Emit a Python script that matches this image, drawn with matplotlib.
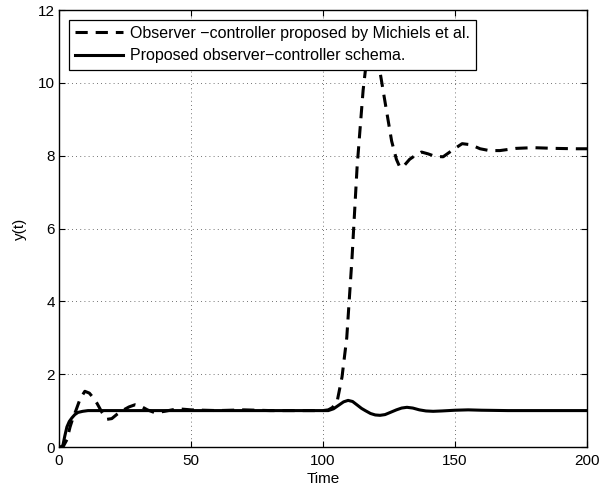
import matplotlib
matplotlib.use("Agg")
import matplotlib.pyplot as plt

plt.rcParams['font.family'] = ['Liberation Sans', 'DejaVu Sans']

# Michiels et al. observer-controller response
t_michiels = [0, 1.5, 3, 4.2, 5.3, 6.4, 8, 9.8, 11.5, 13, 14.4, 16.3, 18.2, 20, 22, 24,
              26.5, 28.8, 31, 33.5, 36.4, 40, 45, 50, 60, 70, 80, 90, 100, 102, 103.5,
              105.3, 107.2, 109, 111, 112.9, 114, 115.2, 116.3, 117.5, 118.8, 120.2,
              121.6, 123.9, 126, 127.8, 129.2, 131, 132.8, 134.8, 137.3, 139.8, 142.5,
              145.5, 149, 152.7, 156, 159.5, 163, 167, 173, 179.5, 188, 196, 200]
y_michiels = [0, 0.0, 0.2, 0.55, 0.8, 1.0, 1.32, 1.53, 1.48, 1.35, 1.2, 0.95, 0.76, 0.78,
              0.9, 1.0, 1.1, 1.16, 1.12, 1.02, 0.94, 0.98, 1.05, 1.02, 1.0, 1.02, 1.0,
              1.0, 1.0, 1.02, 1.08, 1.23, 1.92, 3.0, 5.2, 7.67, 8.7, 9.8, 10.5, 11.0,
              11.25, 11.1, 10.3, 9.3, 8.4, 7.9, 7.67, 7.75, 7.9, 8.0, 8.1, 8.05, 7.98,
              7.97, 8.15, 8.33, 8.3, 8.19, 8.14, 8.14, 8.2, 8.22, 8.2, 8.19, 8.19]

# proposed observer-controller response
t_proposed = [0, 0.8, 1.5, 2.2, 3, 3.9, 4.9, 6, 7.2, 9, 11, 15, 30, 60, 90, 100, 102,
              104, 106, 107.8, 109.5, 111.2, 113, 114.6, 116, 118, 119.8, 121.6, 123.5,
              125.5, 127.8, 129.8, 131.8, 134, 136.5, 139, 141.7, 145, 150, 155, 160,
              170, 180, 190, 200]
y_proposed = [0, 0.0, 0.05, 0.3, 0.55, 0.7, 0.8, 0.89, 0.95, 0.98, 1.0, 1.0, 1.0, 1.0,
              1.0, 1.0, 1.0, 1.05, 1.15, 1.24, 1.28, 1.25, 1.15, 1.06, 1.0, 0.92, 0.88,
              0.87, 0.89, 0.95, 1.02, 1.07, 1.09, 1.07, 1.02, 0.99, 0.98, 0.99, 1.01,
              1.02, 1.01, 1.0, 1.0, 1.0, 1.0]

labels = ['Observer \u2212controller proposed by Michiels et al.',
          'Proposed observer\u2212controller schema.']

fig = plt.figure(figsize=(6.03, 4.91), dpi=100)
ax = fig.add_axes([0.0978, 0.0896, 0.8757, 0.8900])

ax.plot(t_michiels, y_michiels, color='black', lw=2.2, dashes=(4, 2.6),
        label=labels[0])
ax.plot(t_proposed, y_proposed, color='black', lw=2.2, label=labels[1])

ax.set_xlim(0, 200)
ax.set_ylim(0, 12)
ax.set_xticks([0, 50, 100, 150, 200])
ax.set_yticks([0, 2, 4, 6, 8, 10, 12])
ax.grid(True, color='#444444', linestyle=(0, (1, 4)), linewidth=0.6)
ax.tick_params(direction='in', top=True, right=True, labelsize=11, length=4,
               width=0.8)
ax.tick_params(axis='x', pad=5)
ax.tick_params(axis='y', pad=3)
for s in ax.spines.values():
    s.set_linewidth(1.0)

ax.set_xlabel('Time', fontsize=11, labelpad=3)
ax.set_ylabel('y(t)', fontsize=11, labelpad=8)

leg = ax.legend(loc='upper left', fontsize=11.5, fancybox=False, framealpha=1,
                edgecolor='black', borderaxespad=0.6, handlelength=3.0,
                handletextpad=0.45, borderpad=0.4, labelspacing=0.45)
leg.get_frame().set_linewidth(0.9)

fig.savefig('out.png', dpi=100)
